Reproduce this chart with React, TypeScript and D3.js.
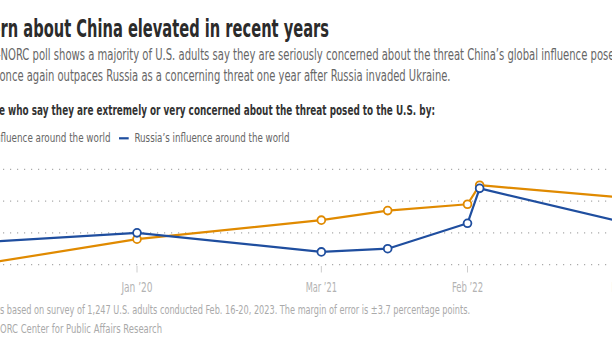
import React, { useLayoutEffect, useRef } from "react";
import * as d3 from "d3";

const W = 612;
const H = 355;

const pollDates = ["2019-01-15", "2020-01-15", "2021-03-15", "2021-08-15", "2022-02-15", "2022-03-15", "2023-02-18"];
const chinaValues = [30, 38, 44, 47, 49, 55, 51];
const russiaValues = [37, 40, 34, 35, 43, 54, 43];
const tickDates = ["2020-01-15", "2021-03-15", "2022-02-15", "2023-02-18"];
const tickLabels = ["Jan ’20", "Mar ’21", "Feb ’22", "Feb ’23"];
const gridValues = [30, 40, 50, 60];
const seriesNames = ["China’s influence around the world", "Russia’s influence around the world"];
const seriesColors = ["#e08a00", "#1f4e9f"];

const titleText = "Concern about China elevated in recent years";
const subLine1 = "A new AP-NORC poll shows a majority of U.S. adults say they are seriously concerned about the threat China’s global influence poses to the U.S., and";
const subLine2 = "influence once again outpaces Russia as a concerning threat one year after Russia invaded Ukraine.";
const leadText = "People who say they are extremely or very concerned about the threat posed to the U.S. by:";
const noteText = "NOTE: Results based on survey of 1,247 U.S. adults conducted Feb. 16-20, 2023. The margin of error is ±3.7 percentage points.";
const sourceText = "SOURCE: AP-NORC Center for Public Affairs Research";

const FONT = "'Liberation Sans Narrow', 'DejaVu Sans Condensed', 'Roboto Condensed', Roboto, sans-serif";

type FitProps = {
  text: string;
  k: number;
  x0: number;
  x1: number;
  j?: number;
  y: number;
  [key: string]: any;
};

function FitText({ text, k, x0, x1, j, y, ...rest }: FitProps) {
  const ref = useRef<SVGTextElement>(null);
  useLayoutEffect(() => {
    const el = ref.current;
    if (!el) return;
    el.removeAttribute("textLength");
    el.removeAttribute("lengthAdjust");
    el.setAttribute("x", "0");
    const total = el.getComputedTextLength();
    const pk = el.getStartPositionOfChar(k).x;
    const pe = j == null ? total : el.getStartPositionOfChar(j).x;
    const s = (x1 - x0) / (pe - pk);
    el.setAttribute("textLength", String(total * s));
    el.setAttribute("lengthAdjust", "spacingAndGlyphs");
    el.setAttribute("x", String(x0 - pk * s));
  }, [text, k, x0, x1, j]);
  return (
    <text ref={ref} y={y} fontFamily={FONT} {...rest}>
      {text}
    </text>
  );
}

export default function App() {
  const parse = d3.timeParse("%Y-%m-%d");
  const dates = pollDates.map((d) => parse(d) as Date);
  const tDates = tickDates.map((d) => parse(d) as Date);

  const x = d3
    .scaleTime()
    .domain([parse("2020-01-15") as Date, parse("2022-02-15") as Date])
    .range([137, 467.5]);
  const y = d3.scaleLinear().domain([30, 60]).range([264.6, 169.3]);

  const series = [chinaValues, russiaValues];
  const line = d3
    .line<number>()
    .x((_, i) => x(dates[i]))
    .y((v) => y(v));

  const tickLabelW = 31.2;

  return (
    <svg
      width={W}
      height={H}
      style={{ position: "absolute", left: 0, top: 0, background: "#fff" }}
    >
      <rect x={0} y={0} width={W} height={H} fill="#fff" />
      {/* Header */}
      <FitText text={titleText} k={5} x0={0.5} x1={329} y={36.5} fontSize={25} fontWeight={700} fill="#2b2b2b" />
      <FitText text={subLine1} k={subLine1.indexOf("NORC")} j={subLine1.indexOf("poses")} x0={0.5} x1={590.5} y={60} fontSize={16} fill="#666" />
      <FitText text={subLine2} k={subLine2.indexOf("once")} x0={-0.5} x1={450.5} y={81} fontSize={16} fill="#666" />
      <FitText text={leadText} k={5} x0={-1} x1={435} y={114.5} fontSize={14} fontWeight={700} fill="#333" />

      {/* Legend */}
      <line x1={-70} x2={-60} y1={138.3} y2={138.3} stroke={seriesColors[0]} strokeWidth={2.2} />
      <FitText text={seriesNames[0]} k={10} x0={0.5} x1={110.5} y={142} fontSize={13} fill="#666" />
      <line x1={119} x2={128.7} y1={138.3} y2={138.3} stroke={seriesColors[1]} strokeWidth={2.2} />
      <FitText text={seriesNames[1]} k={0} x0={134.5} x1={289.5} y={142} fontSize={13} fill="#666" />

      {/* Grid */}
      {gridValues.map((g) => (
        <line
          key={g}
          x1={-60}
          x2={W}
          y1={y(g)}
          y2={y(g)}
          stroke="#aaa"
          strokeWidth={1.2}
          strokeDasharray="1.2,5.8"
        />
      ))}

      {/* X ticks */}
      {tDates.map((d, i) => (
        <g key={i}>
          <line x1={x(d)} x2={x(d)} y1={266} y2={272.5} stroke="#ccc" strokeWidth={1} />
          <FitText
            text={tickLabels[i]}
            k={0}
            x0={x(d) - tickLabelW / 2}
            x1={x(d) + tickLabelW / 2}
            y={291.5}
            fontSize={14.5}
            fill="#b3b3b3"
          />
        </g>
      ))}

      {/* Lines */}
      {series.map((vals, si) => (
        <g key={si}>
          <path d={line(vals) || ""} fill="none" stroke={seriesColors[si]} strokeWidth={2.2} strokeLinejoin="round" />
          {vals.map((v, i) => (
            <circle
              key={i}
              cx={x(dates[i])}
              cy={y(v)}
              r={3.9}
              fill="#fff"
              stroke={seriesColors[si]}
              strokeWidth={1.8}
            />
          ))}
        </g>
      ))}

      {/* Footer */}
      <FitText text={noteText} k={12} x0={0} x1={470} y={314} fontSize={12.5} fill="#aaa" />
      <FitText text={sourceText} k={12} x0={0} x1={162} y={333} fontSize={12.5} fill="#aaa" />
    </svg>
  );
}
